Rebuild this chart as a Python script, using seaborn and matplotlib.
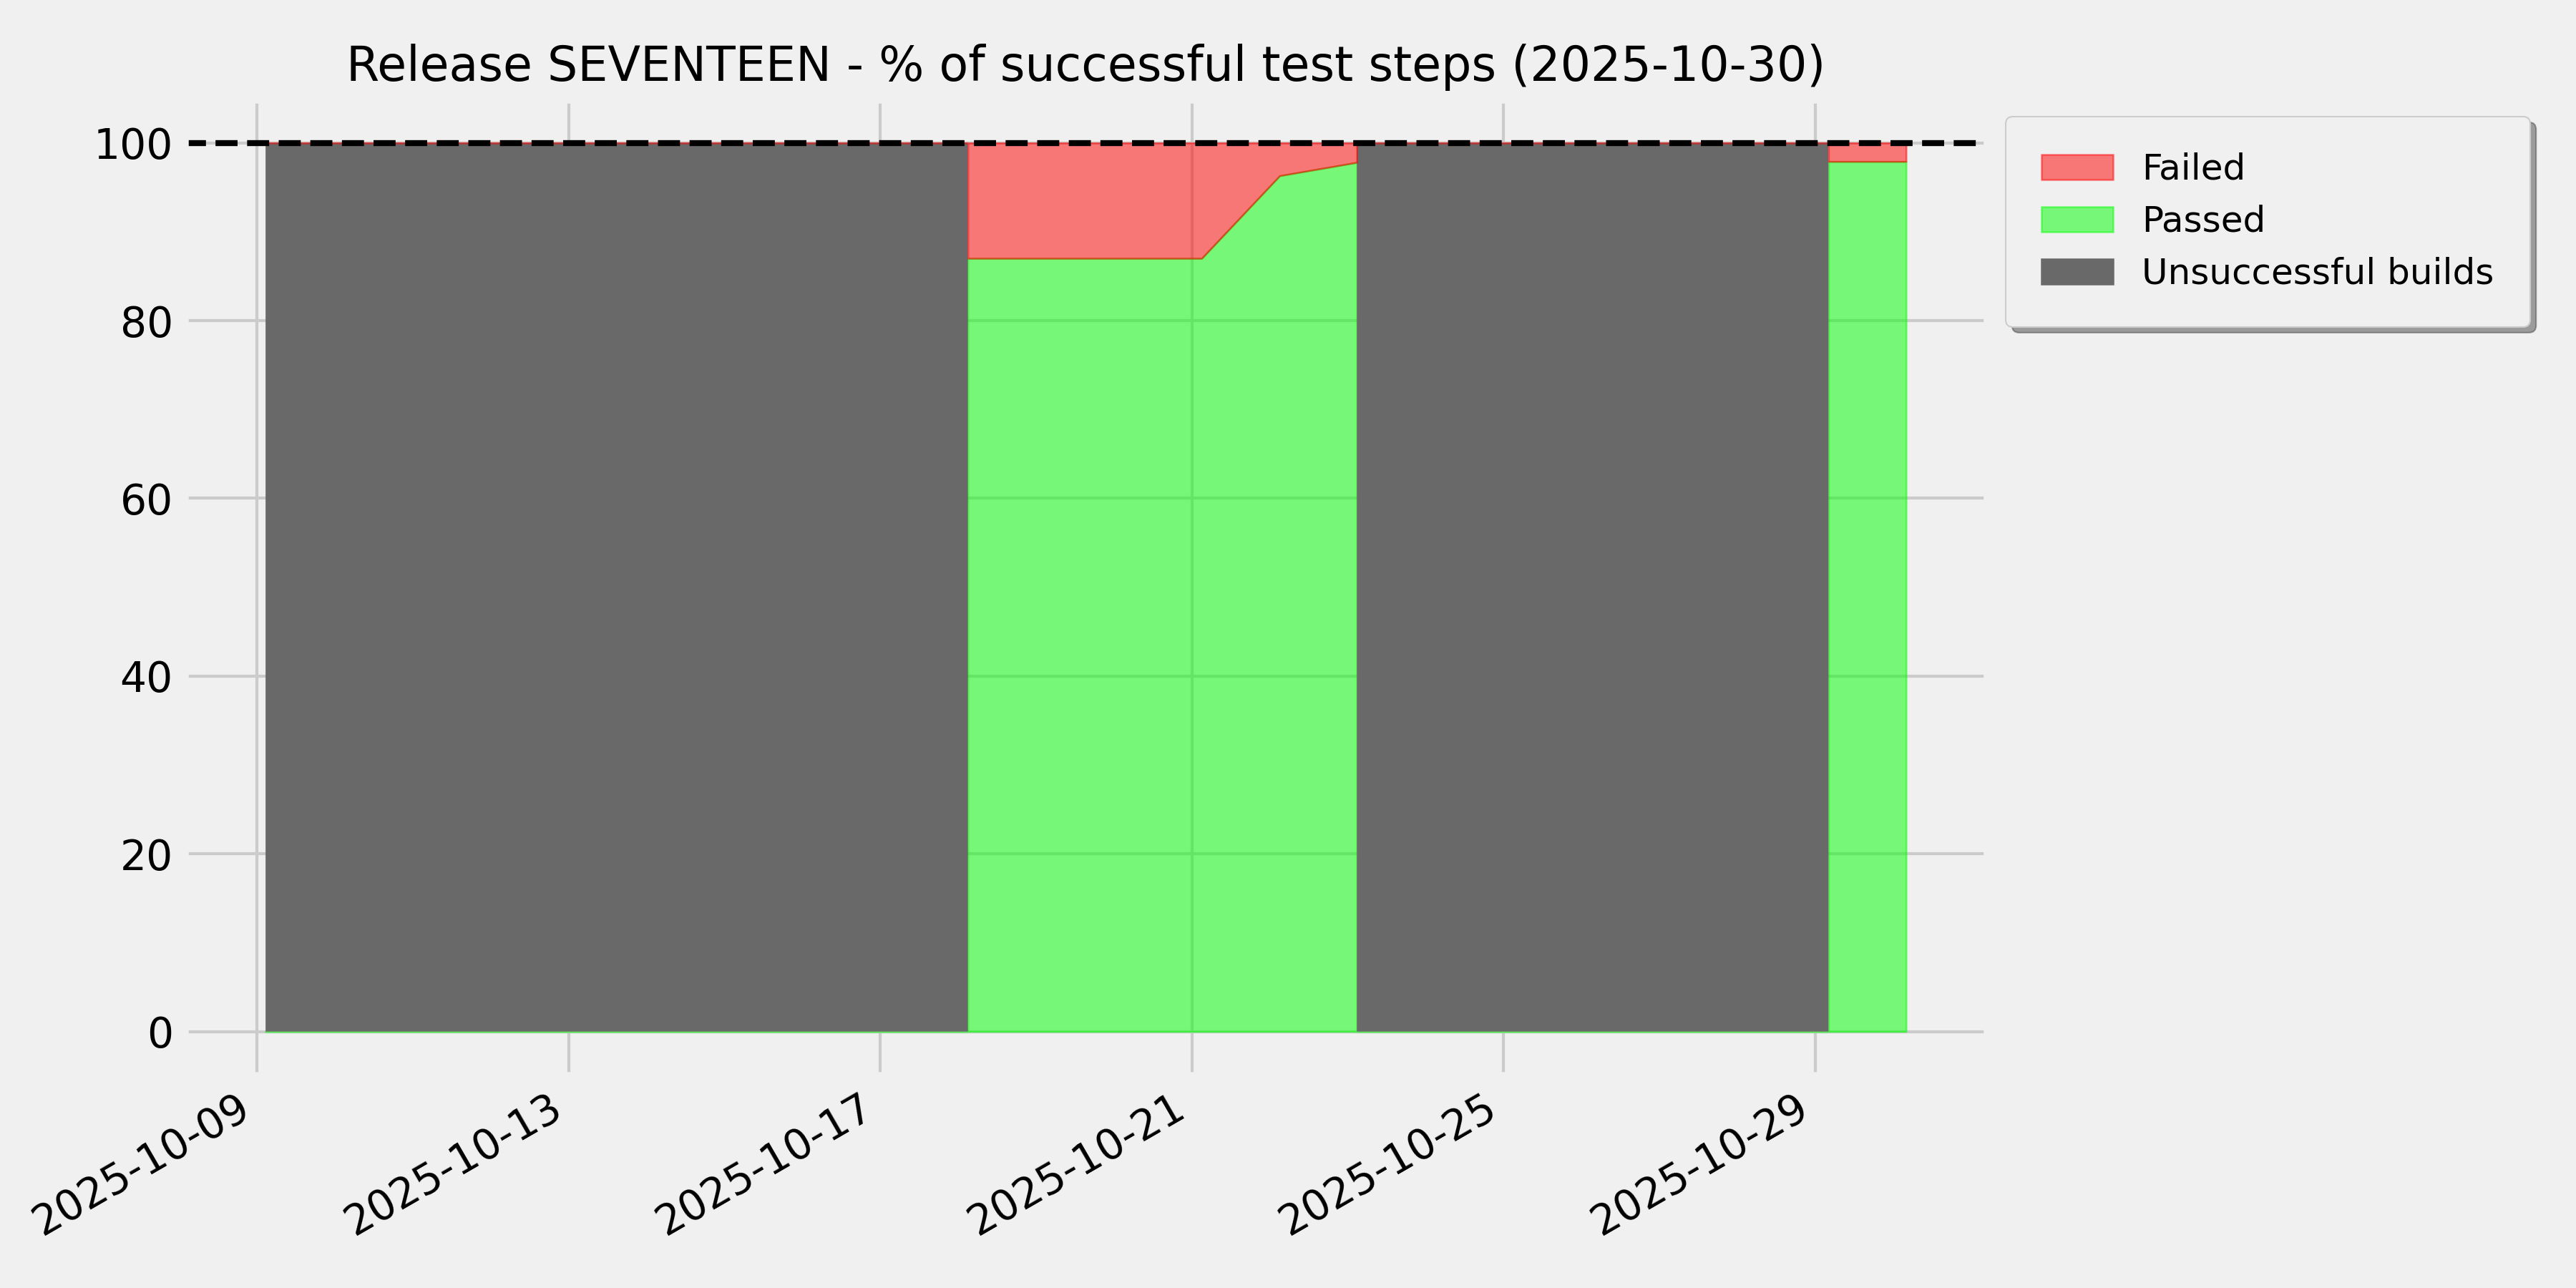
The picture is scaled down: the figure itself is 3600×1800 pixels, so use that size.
import matplotlib
matplotlib.use("Agg")
import matplotlib.pyplot as plt
import matplotlib.dates as mdates
from matplotlib.patches import Patch
import pandas as pd
import seaborn as sns

# ---- data ----
build_time = [
    "2025-10-09 02:38", "2025-10-18 03:00", "2025-10-18 03:00",
    "2025-10-21 02:59", "2025-10-22 03:01", "2025-10-23 02:47",
    "2025-10-23 02:47", "2025-10-29 04:05", "2025-10-29 04:05",
    "2025-10-30 03:59",
]
passed_pct = [0, 0, 87.0, 87.0, 96.3, 97.8, 0, 0, 97.9, 97.9]
failed_pct = [0, 0, 13.0, 13.0, 3.7, 2.2, 0, 0, 2.1, 2.1]
unsuccessful_pct = [100, 100, 0, 0, 0, 0, 100, 100, 0, 0]

series_labels = ["Failed", "Passed", "Unsuccessful builds"]
title = "Release SEVENTEEN - % of successful test steps (2025-10-30)"
target_pct = 100

# ---- style ----
plt.style.use("fivethirtyeight")
palette = sns.color_palette(["red", "lime", "dimgray"])
c_failed, c_passed, c_unsucc = palette

df = pd.DataFrame({
    "time": pd.to_datetime(build_time),
    "passed": passed_pct,
    "failed": failed_pct,
    "unsuccessful": unsuccessful_pct,
})

fig, ax = plt.subplots(figsize=(12, 6), dpi=300)

polys = ax.stackplot(df["time"].values, df["passed"], df["unsuccessful"], df["failed"],
                     colors=[c_passed, c_unsucc, c_failed])
polys[0].set_edgecolor(c_passed)
polys[0].set_alpha(0.5)
polys[1].set_edgecolor("none")
polys[1].set_alpha(1.0)
polys[2].set_edgecolor(c_failed)
polys[2].set_alpha(0.5)
for p in polys:
    p.set_linewidth(0.6)

ax.axhline(target_pct, color="black", linestyle="--", linewidth=2)

ax.set_ylim(-5, 105)
ax.xaxis.set_major_locator(mdates.DayLocator(bymonthday=range(1, 32, 4)))
ax.xaxis.set_major_formatter(mdates.DateFormatter("%Y-%m-%d"))
plt.setp(ax.get_xticklabels(), rotation=30, ha="right")

ax.set_title(title, fontsize=16)

handles = [
    Patch(facecolor=c_failed, edgecolor=c_failed, alpha=0.5, linewidth=0.6, label=series_labels[0]),
    Patch(facecolor=c_passed, edgecolor=c_passed, alpha=0.5, linewidth=0.6, label=series_labels[1]),
    Patch(facecolor=c_unsucc, edgecolor=c_unsucc, alpha=1.0, linewidth=0.6, label=series_labels[2]),
]
ax.legend(handles=handles)
sns.move_legend(ax, "upper left", bbox_to_anchor=(1.0, 1.0), fontsize=12,
                borderpad=1.0, shadow=True, fancybox=True)

fig.subplots_adjust(left=0.07125, right=0.7718, bottom=0.1646, top=0.9236)
fig.savefig("out.png", dpi=300)
